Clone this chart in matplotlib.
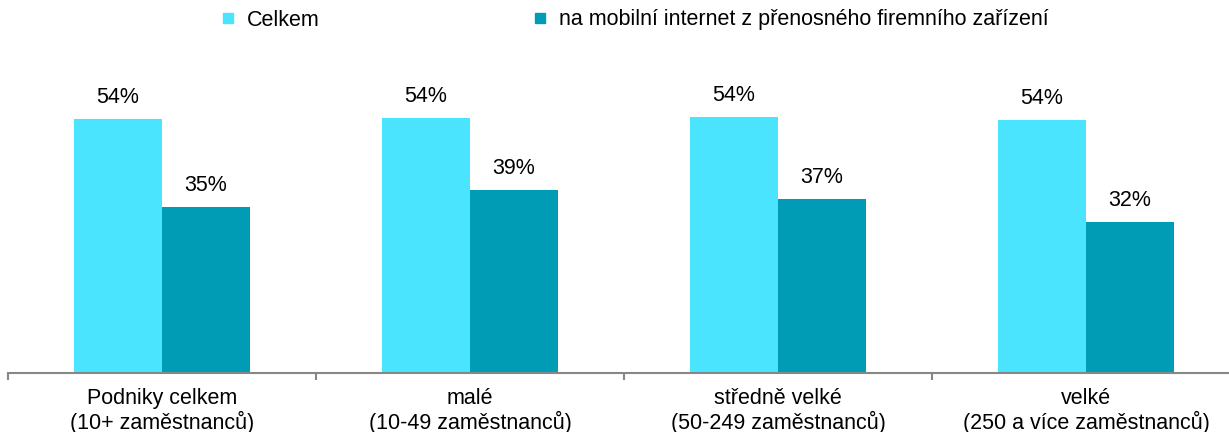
import matplotlib
matplotlib.use('Agg')
import matplotlib.pyplot as plt
from matplotlib.lines import Line2D
import numpy as np

LIGHT = '#4BE4FE'
DARK  = '#009CB5'
AXIS  = '#878787'
TEXT  = '#000000'
FS    = 15.5

plt.rcParams.update({
    'font.family': ['Liberation Sans', 'DejaVu Sans'],
    'font.size': FS,
})

categories = ['Podniky celkem\n(10+ zaměstnanců)',
              'malé\n(10-49 zaměstnanců)',
              'středně velké\n(50-249 zaměstnanců)',
              'velké\n(250 a více zaměstnanců)']
celkem = [54.0, 54.2, 54.4, 53.8]
mobilni = [35.3, 38.9, 37.0, 32.2]
labels_celkem = ['54%', '54%', '54%', '54%']
labels_mobilni = ['35%', '39%', '37%', '32%']
series_names = ['Celkem', 'na mobilní internet z přenosného firemního zařízení']

W, H = 1229, 432
fig = plt.figure(figsize=(W / 100, H / 100), dpi=100)
# axis runs from x=8 px, each group is 308 px wide, right end is cut off
ax = fig.add_axes([8 / W, 59 / H, 4 * 308 / W, (373 - 44) / H])

x = np.arange(len(categories))
bw = 88 / 308
b1 = ax.bar(x - bw / 2, celkem, width=bw, color=LIGHT, linewidth=0)
b2 = ax.bar(x + bw / 2, mobilni, width=bw, color=DARK, linewidth=0)

for bars, labs in ((b1, labels_celkem), (b2, labels_mobilni)):
    for bar, lab in zip(bars, labs):
        ax.annotate(lab, (bar.get_x() + bar.get_width() / 2, bar.get_height()),
                    xytext=(0, 8), textcoords='offset points',
                    ha='center', va='bottom', color=TEXT, fontsize=FS)

ax.set_xlim(-0.5, len(categories) - 0.5)
ax.set_ylim(0, 70)
for s in ('top', 'right', 'left'):
    ax.spines[s].set_visible(False)
ax.spines['bottom'].set_color(AXIS)
ax.spines['bottom'].set_linewidth(1.5)
ax.set_yticks([])

ax.set_xticks(np.arange(len(categories) + 1) - 0.5)
ax.set_xticklabels([])
ax.tick_params(axis='x', which='major', length=5, width=1.5, color=AXIS)
ax.set_xticks(x, minor=True)
ax.set_xticklabels(categories, minor=True, color=TEXT, fontsize=FS,
                   linespacing=1.1)
ax.tick_params(axis='x', which='minor', length=0, pad=11)

handles = [Line2D([], [], marker='s', ls='', color=LIGHT, markersize=7.5),
           Line2D([], [], marker='s', ls='', color=DARK, markersize=7.5)]
fig.legend(handles, series_names, loc='center left',
           bbox_to_anchor=(222.6 / W, 1 - 20 / H), ncol=2, frameon=False,
           borderaxespad=0, borderpad=0, handlelength=0.5,
           handletextpad=0.63, columnspacing=10.0, fontsize=FS)

plt.savefig('out.png', dpi=100, facecolor='white')
plt.close()
